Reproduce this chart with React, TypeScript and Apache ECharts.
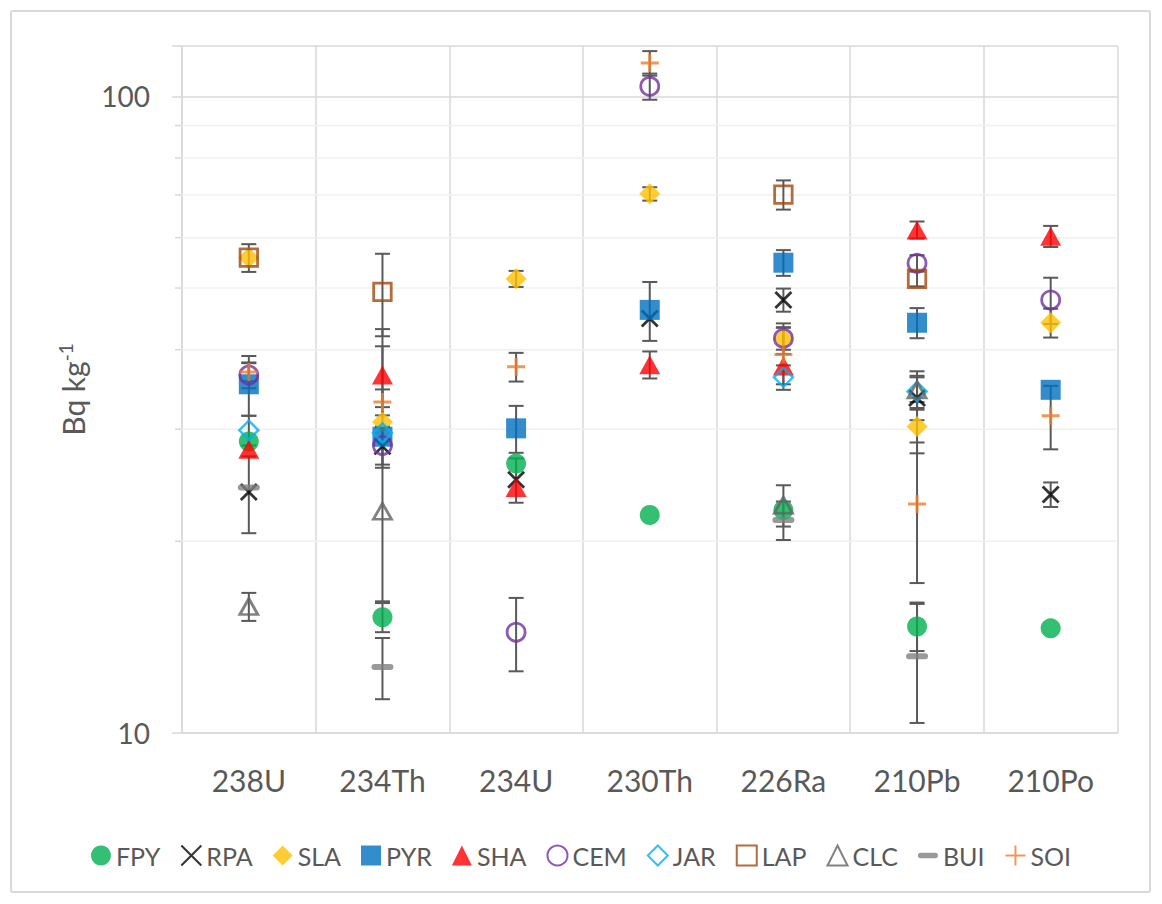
import React, { useEffect, useRef } from "react";
import * as echarts from "echarts";

// ---------- data ----------
const categories = ["238U", "234Th", "234U", "230Th", "226Ra", "210Pb", "210Po"];
const seriesNames = ["FPY", "RPA", "SLA", "PYR", "SHA", "CEM", "JAR", "LAP", "CLC", "BUI", "SOI"];

const fpyValues = [28.7, 15.2, 26.5, 22.0, 22.4, 14.7, 14.6];
const fpyErrors = [null, 0.8, null, null, null, 1.25, null];
const rpaValues = [23.9, 28.2, 25.0, 44.8, 47.9, 33.6, 23.7];
const rpaErrors = [3.3, 2.1, 2.0, null, 2.0, 2.6, 1.05];
const slaValues = [55.8, 30.8, 51.7, 70.3, 41.7, 30.3, 44.1];
const slaErrors = [null, null, 1.5, 1.7, 1.7, 2.8, 2.3];
const pyrValues = [35.3, 29.2, 30.1, 46.2, 54.8, 44.1, 34.6];
const pyrErrors = [3.8, null, 2.55, 4.9, 2.55, 2.4, null];
const shaValues = [27.9, 36.5, 24.3, 37.9, 37.7, 61.7, 60.3];
const shaErrors = [null, 4.0, null, 1.85, null, 1.9, 2.3];
const cemValues = [36.5, 28.3, 14.4, 103.7, 41.7, 54.7, 47.9];
const cemErrors = [1.7, 1.9, 1.9, 4.9, 2.3, 1.6, 4.0];
const jarValues = [29.9, 29.6, null, null, 36.2, 34.4, null];
const jarErrors = [1.6, 13.5, null, null, 1.6, 2.0, null];
const lapValues = [55.8, 49.3, null, null, 70.1, 51.7, null];
const lapErrors = [2.8, 7.3, null, null, 3.7, 1.4, null];
const clcValues = [15.8, 22.3, null, null, 22.8, 34.6, null];
const clcErrors = [0.8, null, null, null, 1.7, 2.4, null];
const buiValues = [24.3, 12.7, null, null, 21.6, 13.2, null];
const buiErrors = [null, 1.4, null, null, 1.5, 2.83, null];
const soiValues = [36.9, 33.1, 37.6, 112.8, 39.3, 22.9, 31.5];
const soiErrors = [1.2, 1.55, 1.95, 5.0, 4.0, 5.7, 3.6];

const yTickLabels = [10, 100];
const minorGridValues = [20, 30, 40, 50, 60, 70, 80, 90];
const yMin = 10;
const yMax = 120;

const allValues = [fpyValues, rpaValues, slaValues, pyrValues, shaValues, cemValues, jarValues, lapValues, clcValues, buiValues, soiValues];
const allErrors = [fpyErrors, rpaErrors, slaErrors, pyrErrors, shaErrors, cemErrors, jarErrors, lapErrors, clcErrors, buiErrors, soiErrors];

// ---------- styles ----------
const FONT = "Lato, 'Open Sans', sans-serif";
const TEXT = "#595959";
const X_PATH = "path://M0,0L10,10M10,0L0,10";
const PLUS_PATH = "path://M5,0L5,10M0,5L10,5";
const DASH_PATH = "path://M3,0H19A3,3 0 0 1 19,6H3A3,3 0 0 1 3,0Z";
const T = "rgba(0,0,0,0)";

const markerStyles: any[] = [
  { symbol: "circle", symbolSize: 20, itemStyle: { color: "#00B050" } },
  { symbol: X_PATH, symbolSize: 16, itemStyle: { color: T, borderColor: "#000000", borderWidth: 2.8 } },
  { symbol: "diamond", symbolSize: 21, itemStyle: { color: "#FFC000" } },
  { symbol: "rect", symbolSize: 20, itemStyle: { color: "#0070C0" } },
  { symbol: "triangle", symbolSize: [21, 19], itemStyle: { color: "#FF0000" } },
  { symbol: "circle", symbolSize: 18, itemStyle: { color: T, borderColor: "#7030A0", borderWidth: 2.8 } },
  { symbol: "diamond", symbolSize: 19, itemStyle: { color: T, borderColor: "#00B0F0", borderWidth: 2.5 } },
  { symbol: "rect", symbolSize: 17.5, itemStyle: { color: T, borderColor: "#9E480E", borderWidth: 2.8 } },
  { symbol: "triangle", symbolSize: [18, 16], itemStyle: { color: T, borderColor: "#636363", borderWidth: 2.8 } },
  { symbol: DASH_PATH, symbolSize: [22, 6], itemStyle: { color: "#808080" } },
  { symbol: PLUS_PATH, symbolSize: 18, itemStyle: { color: T, borderColor: "#ED7D31", borderWidth: 3 } },
];

export default function App() {
  const ref = useRef<HTMLDivElement>(null);

  useEffect(() => {
    if (!ref.current) return;
    const chart = echarts.init(ref.current, null, { renderer: "svg" });

    const scatterSeries = seriesNames.map((name, si) => ({
      type: "scatter",
      name,
      z: 3,
      data: allValues[si].map((v, i) => (v == null ? [i, "-"] : [i, v])),
      ...markerStyles[si],
      emphasis: { disabled: true },
    }));

    const errorSeries = seriesNames.map((name, si) => {
      const data: any[] = [];
      allValues[si].forEach((v, i) => {
        const e = allErrors[si][i];
        if (v != null && e != null) data.push([i, v - e, v + e]);
      });
      return {
        type: "custom",
        name: name + " error",
        z: 2,
        silent: true,
        encode: { x: 0, y: [1, 2] },
        data,
        renderItem: (params: any, api: any) => {
          const x = api.value(0);
          const pLo = api.coord([x, api.value(1)]);
          const pHi = api.coord([x, api.value(2)]);
          const cx = pLo[0];
          const w = 7.5;
          const style = { stroke: "#595959", lineWidth: 2 };
          return {
            type: "group",
            children: [
              { type: "line", shape: { x1: cx, y1: pHi[1], x2: cx, y2: pLo[1] }, style },
              { type: "line", shape: { x1: cx - w, y1: pHi[1], x2: cx + w, y2: pHi[1] }, style },
              { type: "line", shape: { x1: cx - w, y1: pLo[1], x2: cx + w, y2: pLo[1] }, style },
            ],
          };
        },
      };
    });

    const minorGridSeries = {
      type: "custom",
      name: "minor grid",
      z: 1,
      silent: true,
      encode: { x: 0, y: 1 },
      data: minorGridValues.map((v) => [0, v]),
      renderItem: (params: any, api: any) => {
        const cs = params.coordSys;
        const y = api.coord([0, api.value(1)])[1];
        return {
          type: "group",
          children: [
            { type: "line", shape: { x1: cs.x, y1: y, x2: cs.x + cs.width, y2: y }, style: { stroke: "#F0F0F0", lineWidth: 1.5 } },
            { type: "line", shape: { x1: cs.x - 7, y1: y, x2: cs.x, y2: y }, style: { stroke: "#D9D9D9", lineWidth: 1.5 } },
          ],
        };
      },
    };

    const option: any = {
      animation: false,
      backgroundColor: "#ffffff",
      textStyle: { fontFamily: FONT },
      graphic: [
        {
          type: "rect",
          z: -10,
          shape: { x: 11, y: 11, width: 1139, height: 881, r: 2 },
          style: { fill: "none", stroke: "#D9D9D9", lineWidth: 2 },
          silent: true,
        },
      ],
      grid: { left: 182, top: 46, width: 935.5, height: 687, containLabel: false },
      legend: {
        data: seriesNames,
        left: "center",
        top: 838,
        itemWidth: 20,
        itemHeight: 20,
        itemGap: 20,
        selectedMode: false,
        textStyle: { fontFamily: FONT, fontSize: 25, color: TEXT },
      },
      xAxis: {
        type: "category",
        data: categories,
        boundaryGap: true,
        axisLine: { show: true, lineStyle: { color: "#D9D9D9", width: 1.5 } },
        axisTick: { show: false },
        splitLine: { show: true, interval: 0, lineStyle: { color: "#D9D9D9", width: 1.5 } },
        axisLabel: { fontFamily: FONT, fontSize: 30, color: TEXT, margin: 32, interval: 0 },
      },
      yAxis: {
        type: "log",
        logBase: 10,
        min: yMin,
        max: yMax,
        name: "{a|Bq kg}{b|-1}",
        nameLocation: "middle",
        nameRotate: 90,
        nameGap: 92,
        nameTextStyle: {
          color: TEXT,
          fontFamily: FONT,
          fontSize: 30,
          rich: {
            a: { fontFamily: FONT, fontSize: 30, color: TEXT, lineHeight: 34 },
            b: { fontFamily: FONT, fontSize: 19, color: TEXT, verticalAlign: "top", lineHeight: 34 },
          },
        },
        axisLine: { show: true, lineStyle: { color: "#D9D9D9", width: 1.5 } },
        axisTick: { show: true, length: 10, lineStyle: { color: "#D9D9D9", width: 1.5 } },
        splitLine: { show: true, lineStyle: { color: "#D9D9D9", width: 1.5 } },
        axisLabel: {
          fontFamily: FONT,
          fontSize: 28,
          color: TEXT,
          margin: 32,
          formatter: (v: number) => (yTickLabels.includes(Math.round(v)) ? String(Math.round(v)) : ""),
        },
      },
      series: [minorGridSeries, ...errorSeries, ...scatterSeries],
    };

    chart.setOption(option);
    return () => chart.dispose();
  }, []);

  return (
    <div
      ref={ref}
      style={{ position: "absolute", left: 0, top: 0, width: 1162, height: 904, background: "#fff" }}
    />
  );
}
